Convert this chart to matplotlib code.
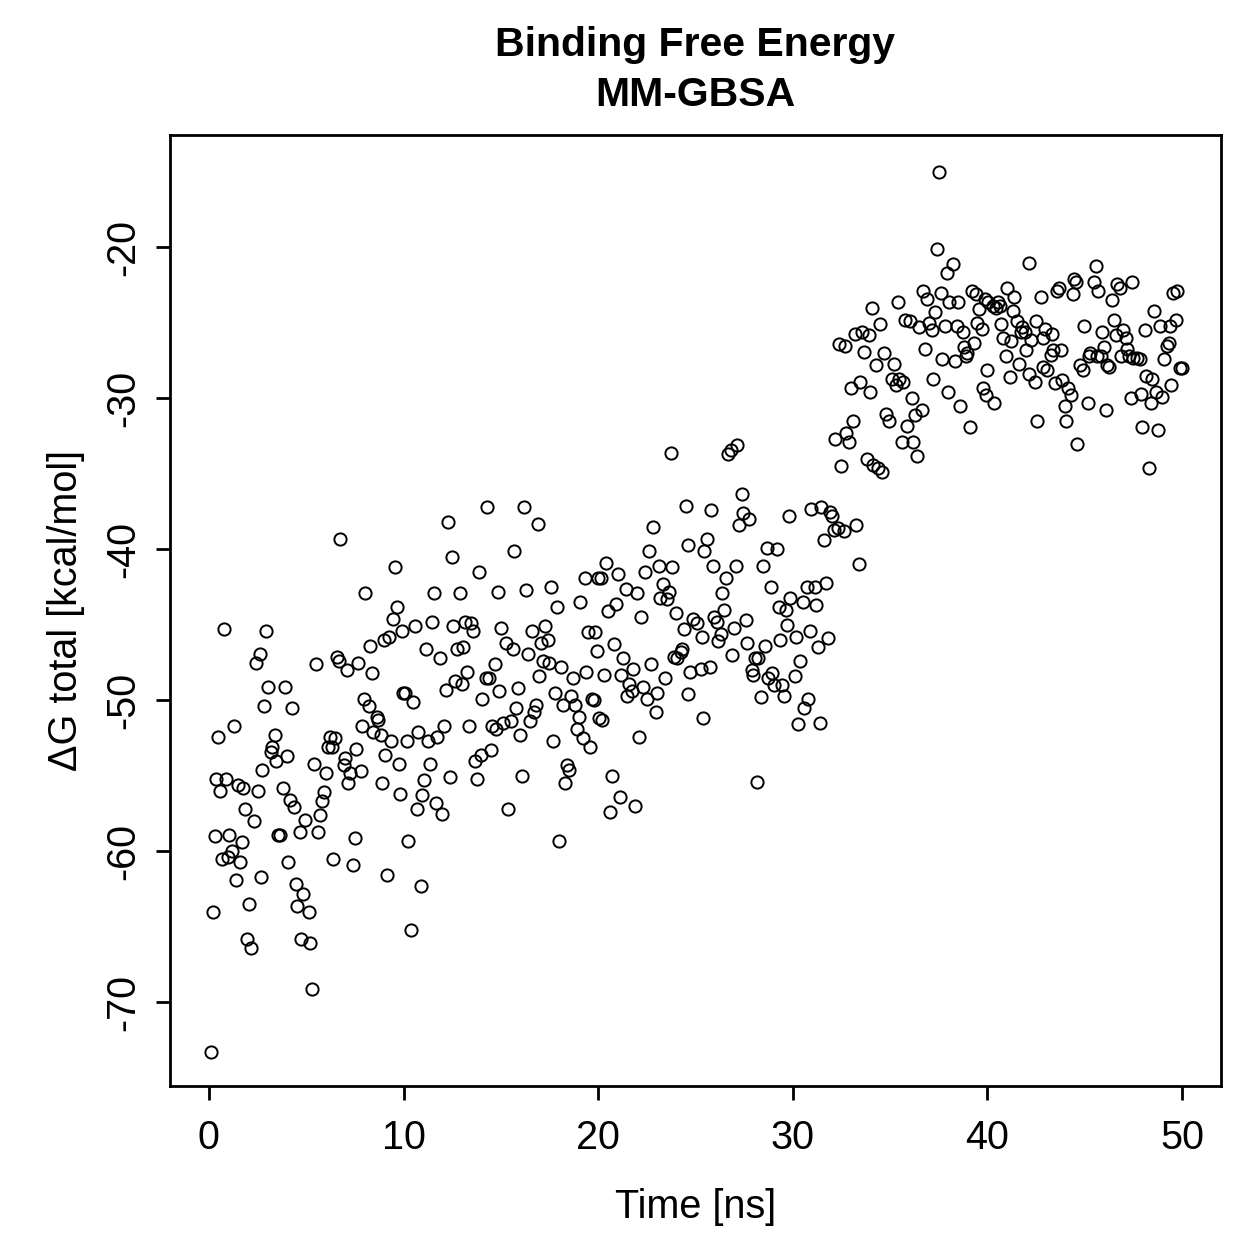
import matplotlib
matplotlib.use("Agg")
import matplotlib.pyplot as plt
import numpy as np

plt.rcParams['font.family'] = ['Liberation Sans', 'DejaVu Sans']

# Binding free energy (MM-GBSA)
t_00_05 = [0.10, 0.20, 0.30, 0.35, 0.45, 0.55, 0.65, 0.75, 0.90, 1.00,
           1.05, 1.20, 1.30, 1.40, 1.50, 1.60, 1.70, 1.75, 1.85, 1.95,
           2.05, 2.15, 2.30, 2.40, 2.50, 2.60, 2.70, 2.75, 2.85, 2.95,
           3.05, 3.20, 3.25, 3.40, 3.45, 3.55, 3.65, 3.80, 3.90, 4.00,
           4.05, 4.15, 4.25, 4.35, 4.45, 4.55, 4.70, 4.75, 4.85, 4.95]
dg_00_05 = [-73.3, -64.0, -59.0, -55.2, -52.4, -56.0, -60.5, -45.3, -55.2, -60.4,
            -58.9, -60.0, -51.7, -61.9, -55.6, -60.7, -59.4, -55.8, -57.2, -65.8,
            -63.5, -66.4, -58.0, -47.5, -56.0, -46.9, -61.7, -54.6, -50.4, -45.4,
            -49.1, -53.4, -53.1, -52.3, -54.0, -58.9, -58.9, -55.8, -49.1, -53.7,
            -60.7, -56.6, -50.5, -57.1, -62.2, -63.6, -58.7, -65.8, -62.8, -57.9]

t_05_10 = [5.12, 5.17, 5.28, 5.38, 5.48, 5.58, 5.69, 5.79, 5.89, 5.99,
           6.10, 6.20, 6.30, 6.40, 6.50, 6.56, 6.66, 6.76, 6.92, 6.97,
           7.07, 7.17, 7.27, 7.38, 7.48, 7.58, 7.68, 7.79, 7.89, 7.99,
           8.04, 8.20, 8.30, 8.40, 8.45, 8.61, 8.71, 8.86, 8.91, 8.97,
           9.07, 9.17, 9.27, 9.38, 9.48, 9.58, 9.68, 9.78, 9.84, 9.94,
           9.96]
dg_05_10 = [-64.0, -66.1, -69.1, -54.2, -47.6, -58.7, -57.6, -56.7, -56.1, -54.8,
            -53.1, -52.4, -53.1, -60.5, -52.5, -47.1, -47.4, -39.3, -54.3, -53.8,
            -48.0, -55.5, -54.8, -60.9, -59.1, -53.2, -47.5, -54.7, -51.7, -49.9,
            -42.9, -50.4, -46.4, -48.2, -52.1, -51.1, -51.3, -52.3, -55.5, -46.0,
            -53.6, -61.6, -45.8, -52.7, -44.6, -41.2, -43.8, -54.2, -56.2, -45.4,
            -49.5]

t_10_15 = [10.09, 10.19, 10.25, 10.40, 10.50, 10.60, 10.71, 10.76, 10.91, 10.96,
           11.07, 11.17, 11.27, 11.37, 11.48, 11.58, 11.68, 11.73, 11.89, 11.99,
           12.09, 12.19, 12.30, 12.40, 12.50, 12.55, 12.65, 12.76, 12.91, 13.01,
           13.06, 13.17, 13.27, 13.37, 13.47, 13.58, 13.68, 13.78, 13.88, 13.99,
           14.04, 14.24, 14.29, 14.40, 14.50, 14.55, 14.70, 14.75, 14.86, 14.90]
dg_10_15 = [-49.5, -52.7, -59.3, -65.2, -50.1, -45.1, -57.2, -52.1, -62.3, -56.3,
            -55.3, -46.6, -52.7, -54.2, -44.8, -42.9, -56.8, -52.4, -47.2, -57.5,
            -51.7, -49.3, -38.2, -55.1, -40.5, -45.1, -48.7, -46.6, -42.9, -48.9,
            -46.5, -44.8, -48.1, -51.7, -44.9, -45.4, -54.0, -55.2, -41.5, -53.6,
            -49.9, -48.5, -37.2, -48.5, -53.3, -51.7, -47.6, -51.9, -42.8, -49.4]

t_15_20 = [15.01, 15.11, 15.27, 15.37, 15.52, 15.63, 15.68, 15.78, 15.88, 15.98,
           16.09, 16.19, 16.29, 16.39, 16.50, 16.60, 16.70, 16.80, 16.91, 16.96,
           17.06, 17.16, 17.26, 17.42, 17.47, 17.57, 17.67, 17.78, 17.88, 17.98,
           18.08, 18.19, 18.29, 18.39, 18.49, 18.60, 18.70, 18.80, 18.90, 19.01,
           19.06, 19.21, 19.31, 19.36, 19.47, 19.57, 19.67, 19.77, 19.83, 19.93,
           19.98]
dg_15_20 = [-45.2, -51.5, -46.2, -57.2, -51.4, -46.6, -40.1, -50.5, -49.2, -52.3,
            -55.0, -37.2, -42.7, -46.9, -51.4, -45.4, -50.8, -50.3, -38.3, -48.4,
            -46.2, -47.4, -45.1, -46.0, -47.5, -42.5, -52.7, -49.5, -43.8, -59.3,
            -47.8, -50.3, -55.5, -54.3, -54.6, -49.7, -48.5, -50.3, -51.9, -51.1,
            -43.5, -52.5, -41.9, -48.1, -45.5, -53.1, -49.9, -50.0, -45.5, -46.7,
            -41.9]

t_20_25 = [20.03, 20.13, 20.18, 20.29, 20.39, 20.49, 20.59, 20.70, 20.80, 20.90,
           21.00, 21.11, 21.16, 21.26, 21.41, 21.46, 21.57, 21.72, 21.77, 21.88,
           21.98, 22.08, 22.18, 22.28, 22.39, 22.49, 22.59, 22.69, 22.80, 22.95,
           23.00, 23.10, 23.16, 23.31, 23.41, 23.51, 23.62, 23.72, 23.77, 23.87,
           23.98, 24.03, 24.23, 24.33, 24.39, 24.49, 24.59, 24.64, 24.74, 24.85]
dg_20_25 = [-51.2, -41.9, -51.3, -48.3, -40.9, -44.1, -57.4, -55.0, -46.3, -43.6,
            -41.6, -56.4, -48.3, -47.2, -42.6, -49.7, -48.9, -49.4, -47.9, -57.0,
            -42.9, -52.4, -44.5, -49.1, -41.5, -49.9, -40.1, -47.6, -38.5, -50.8,
            -49.5, -41.1, -43.2, -42.3, -48.5, -43.3, -42.8, -33.6, -41.2, -47.1,
            -44.2, -47.2, -46.8, -46.6, -45.3, -37.1, -39.7, -49.6, -48.1, -44.6]

t_25_30 = [25.10, 25.26, 25.31, 25.41, 25.46, 25.61, 25.72, 25.82, 25.92, 25.97,
           26.13, 26.18, 26.33, 26.38, 26.49, 26.59, 26.69, 26.84, 26.90, 27.00,
           27.10, 27.15, 27.25, 27.41, 27.46, 27.61, 27.66, 27.77, 27.92, 27.97,
           28.07, 28.18, 28.23, 28.38, 28.48, 28.59, 28.69, 28.74, 28.89, 28.94,
           29.05, 29.20, 29.30, 29.35, 29.46, 29.56, 29.66, 29.71, 29.82, 29.87]
dg_25_30 = [-44.9, -47.9, -45.8, -51.2, -40.1, -39.3, -47.8, -37.4, -41.1, -44.5,
            -44.8, -46.1, -45.6, -42.9, -44.0, -41.9, -33.7, -33.4, -47.0, -45.2,
            -41.1, -33.1, -38.4, -36.3, -37.6, -44.7, -46.2, -38.0, -48.0, -48.3,
            -47.2, -55.4, -47.2, -49.8, -41.1, -46.4, -39.9, -48.5, -42.5, -48.2,
            -49.0, -40.0, -43.8, -46.0, -49.0, -49.7, -44.0, -45.0, -37.8, -43.2]

t_30_35 = [30.12, 30.17, 30.28, 30.38, 30.53, 30.58, 30.74, 30.79, 30.89, 30.94,
           31.15, 31.20, 31.30, 31.40, 31.45, 31.61, 31.71, 31.81, 31.92, 32.02,
           32.12, 32.17, 32.33, 32.38, 32.48, 32.63, 32.68, 32.74, 32.89, 32.99,
           33.09, 33.20, 33.25, 33.40, 33.45, 33.56, 33.66, 33.81, 33.91, 33.97,
           34.07, 34.12, 34.27, 34.38, 34.48, 34.58, 34.68, 34.78, 34.94]
dg_30_35 = [-48.4, -45.8, -51.6, -47.4, -43.5, -50.5, -42.5, -49.9, -45.4, -37.3,
            -42.5, -43.7, -46.5, -51.5, -37.2, -39.4, -42.2, -45.9, -37.5, -37.8,
            -38.7, -32.7, -38.6, -26.4, -34.5, -38.8, -26.5, -32.3, -32.9, -29.3,
            -31.5, -25.7, -38.4, -41.0, -28.9, -25.6, -26.9, -34.0, -25.8, -29.6,
            -24.0, -34.4, -27.8, -34.6, -25.1, -34.9, -27.0, -31.0, -31.5]

t_35_40 = [35.09, 35.19, 35.30, 35.40, 35.45, 35.60, 35.66, 35.76, 35.86, 36.01,
           36.12, 36.17, 36.27, 36.37, 36.48, 36.63, 36.68, 36.78, 36.89, 36.99,
           37.14, 37.19, 37.30, 37.40, 37.50, 37.60, 37.65, 37.81, 37.91, 37.96,
           38.01, 38.22, 38.32, 38.42, 38.47, 38.58, 38.73, 38.78, 38.88, 38.93,
           39.09, 39.19, 39.29, 39.40, 39.45, 39.55, 39.70, 39.75, 39.86, 39.91,
           39.96]
dg_35_40 = [-28.7, -27.7, -29.1, -23.6, -28.7, -32.9, -28.9, -24.8, -31.8, -24.9,
            -30.0, -32.9, -31.1, -33.8, -25.3, -30.8, -22.9, -26.7, -23.4, -25.0,
            -25.5, -28.7, -24.3, -20.1, -15.0, -23.0, -27.4, -25.2, -21.7, -29.6,
            -23.6, -21.1, -27.5, -25.2, -23.6, -30.5, -25.6, -26.6, -27.2, -27.0,
            -31.9, -22.9, -26.3, -23.1, -25.0, -24.1, -25.4, -29.3, -23.4, -29.8,
            -28.1]

t_40_45 = [40.01, 40.27, 40.32, 40.42, 40.52, 40.63, 40.68, 40.78, 40.93, 40.98,
           41.14, 41.19, 41.29, 41.39, 41.50, 41.60, 41.70, 41.80, 41.91, 41.96,
           42.11, 42.16, 42.26, 42.42, 42.47, 42.57, 42.73, 42.83, 42.88, 42.98,
           43.08, 43.24, 43.34, 43.39, 43.49, 43.55, 43.70, 43.80, 43.85, 44.01,
           44.06, 44.16, 44.31, 44.42, 44.47, 44.57, 44.62, 44.77, 44.93]
dg_40_45 = [-23.6, -23.9, -30.3, -24.0, -23.6, -23.9, -25.1, -26.0, -27.2, -22.7,
            -28.6, -26.2, -24.2, -23.3, -24.9, -27.7, -25.6, -25.3, -25.6, -26.8,
            -21.0, -28.4, -26.1, -28.9, -24.9, -31.5, -23.3, -26.0, -27.9, -25.4,
            -28.1, -27.1, -25.7, -26.8, -29.0, -22.9, -22.7, -26.8, -28.8, -30.5,
            -31.5, -29.3, -29.8, -23.1, -22.1, -22.3, -33.0, -27.8, -28.1]

t_45_50 = [44.98, 45.18, 45.24, 45.29, 45.49, 45.59, 45.65, 45.70, 45.85, 45.90,
           46.00, 46.11, 46.16, 46.26, 46.41, 46.52, 46.62, 46.67, 46.82, 46.88,
           46.98, 47.13, 47.18, 47.28, 47.39, 47.44, 47.49, 47.69, 47.85, 47.90,
           47.95, 48.10, 48.16, 48.31, 48.41, 48.46, 48.57, 48.67, 48.77, 48.87,
           48.98, 49.08, 49.23, 49.33, 49.39, 49.44, 49.54, 49.69, 49.74, 49.90,
           50.00]
dg_45_50 = [-25.2, -30.3, -27.2, -27.0, -22.3, -21.2, -27.2, -22.9, -27.2, -25.6,
            -26.6, -30.8, -27.8, -27.9, -23.5, -24.8, -25.8, -22.4, -22.7, -27.2,
            -25.5, -26.0, -26.7, -27.2, -30.0, -22.3, -27.3, -27.3, -27.4, -29.7,
            -31.9, -25.5, -28.5, -34.6, -30.3, -28.7, -24.2, -29.6, -32.1, -25.2,
            -29.9, -27.4, -26.5, -26.3, -25.2, -29.1, -23.0, -24.8, -22.9, -28.0,
            -28.0]

x_ticks = [0, 10, 20, 30, 40, 50]
y_ticks = [-70, -60, -50, -40, -30, -20]

time_ns = np.concatenate([t_00_05, t_05_10, t_10_15, t_15_20, t_20_25,
                          t_25_30, t_30_35, t_35_40, t_40_45, t_45_50])
dg_total = np.concatenate([dg_00_05, dg_05_10, dg_10_15, dg_15_20, dg_20_25,
                           dg_25_30, dg_30_35, dg_35_40, dg_40_45, dg_45_50])

W = 1259
fig = plt.figure(figsize=(W / 100, W / 100), dpi=100)
ax = fig.add_axes([170 / W, 1 - 1086 / W, (1221 - 170) / W, (1086 - 135) / W])

ax.plot(time_ns, dg_total, linestyle='none', marker='o', markersize=8.8,
        markerfacecolor='none', markeredgecolor='black', markeredgewidth=1.4)

ax.set_xlim(-2, 52)
ax.set_ylim(-75.55, -12.55)
ax.set_xticks(x_ticks)
ax.set_yticks(y_ticks)
ax.set_yticklabels([str(v) for v in y_ticks], rotation=90, va='center')

for s in ax.spines.values():
    s.set_linewidth(2.0)
ax.tick_params(axis='both', direction='out', length=10, width=2.0,
               labelsize=28.5)
ax.tick_params(axis='x', pad=14)
ax.tick_params(axis='y', pad=10)

ax.set_xlabel('Time [ns]', fontsize=28.5, labelpad=22)
ax.set_ylabel('\u0394G total [kcal/mol]', fontsize=28.5, labelpad=14)

fig.text(695 / W, 1 - 70 / W, 'Binding Free Energy\nMM-GBSA', ha='center',
         va='center', fontsize=29.5, fontweight='bold', linespacing=1.4)

fig.savefig('out.png', dpi=100)
